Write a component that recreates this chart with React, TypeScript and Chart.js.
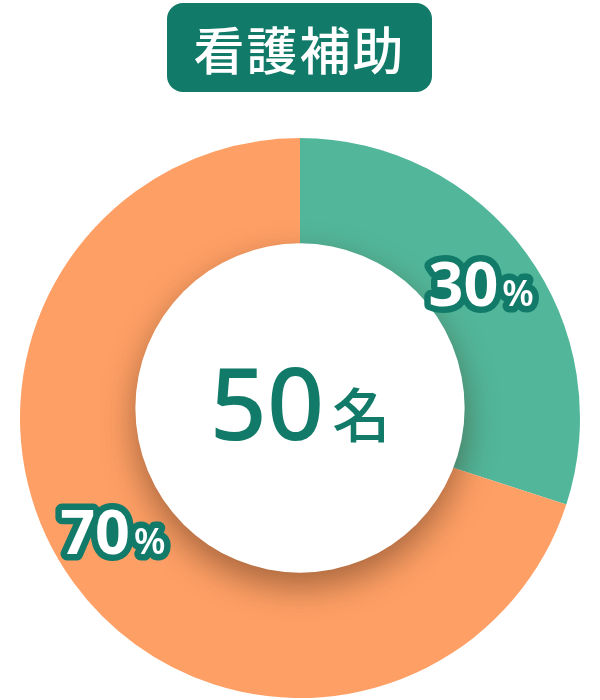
import React, { useEffect, useRef } from "react";
import { Chart, registerables, Plugin } from "chart.js";

Chart.register(...registerables);

const title = "看護補助";
const categories = ["A", "B"];
const shares = [30, 70];
const colors = ["#52b79a", "#fea066"];
const totalCount = 50;
const countUnit = "名";

const DARK = "#127a68";

// small per-label nudge [dx, dy] so labels sit like the original
const labelNudge = [
  [0, -2],
  [-6, -18],
];

const decorPlugin: Plugin<"doughnut"> = {
  id: "decor",
  afterDatasetsDraw(chart) {
    const { ctx } = chart;
    const meta = chart.getDatasetMeta(0);
    const arc0: any = meta.data[0];
    if (!arc0) return;
    const cx = arc0.x;
    const cy = arc0.y;
    const R = arc0.outerRadius;

    // center white disc with drop shadow
    ctx.save();
    ctx.shadowColor = "rgba(60, 30, 10, 0.45)";
    ctx.shadowBlur = 34;
    ctx.shadowOffsetY = 14;
    ctx.fillStyle = "#ffffff";
    ctx.beginPath();
    ctx.arc(cx, cy - 10, R * 0.588, 0, Math.PI * 2);
    ctx.fill();
    ctx.restore();

    // center count
    ctx.save();
    ctx.fillStyle = DARK;
    ctx.textBaseline = "alphabetic";
    const numFont = '500 100px "Noto Sans", sans-serif';
    const unitFont = '500 58px "Noto Sans CJK JP", sans-serif';
    const numText = String(totalCount);
    ctx.font = numFont;
    const nw = ctx.measureText(numText).width;
    ctx.font = unitFont;
    const uw = ctx.measureText(countUnit).width;
    const gap = 8;
    const startX = cx - (nw + gap + uw) / 2;
    const base = cy + 22;
    ctx.font = numFont;
    ctx.textAlign = "left";
    ctx.fillText(numText, startX, base);
    ctx.font = unitFont;
    ctx.fillText(countUnit, startX + nw + gap, base - 3);
    ctx.restore();

    // percentage labels
    meta.data.forEach((el: any, i: number) => {
      const mid = (el.startAngle + el.endAngle) / 2;
      const r = R * 0.8;
      const [dx, dy] = labelNudge[i] || [0, 0];
      const lx = cx + Math.cos(mid) * r + dx;
      const ly = cy + Math.sin(mid) * r + dy;
      const digits = String(shares[i]);
      const digitFont = '700 61px "Noto Sans", sans-serif';
      const pctFont = '600 36px "Noto Sans", sans-serif';
      ctx.save();
      ctx.font = digitFont;
      const dw = ctx.measureText(digits).width;
      ctx.font = pctFont;
      const pw = ctx.measureText("%").width;
      const pg = 4;
      const sx = lx - (dw + pg + pw) / 2;
      const baseline = ly + 22;
      ctx.lineJoin = "round";
      ctx.lineWidth = 13;
      ctx.strokeStyle = DARK;
      ctx.fillStyle = "#ffffff";
      ctx.textAlign = "left";
      ctx.textBaseline = "alphabetic";
      ctx.font = digitFont;
      ctx.strokeText(digits, sx, baseline);
      ctx.font = pctFont;
      ctx.strokeText("%", sx + dw + pg, baseline);
      ctx.font = digitFont;
      ctx.fillText(digits, sx, baseline);
      ctx.font = pctFont;
      ctx.fillText("%", sx + dw + pg, baseline);
      ctx.restore();
    });
  },
};

export default function App() {
  const canvasRef = useRef<HTMLCanvasElement | null>(null);
  const chartRef = useRef<Chart<"doughnut"> | null>(null);

  useEffect(() => {
    if (chartRef.current) {
      chartRef.current.destroy();
    }
    if (canvasRef.current) {
      chartRef.current = new Chart(canvasRef.current, {
        type: "doughnut",
        data: {
          labels: categories,
          datasets: [
            {
              data: shares,
              backgroundColor: colors,
              borderWidth: 0,
            },
          ],
        },
        options: {
          animation: false,
          responsive: true,
          maintainAspectRatio: false,
          cutout: "50%",
          layout: { padding: { top: 138, bottom: 2, left: 0, right: 0 } },
          plugins: {
            legend: { display: false },
            tooltip: { enabled: false },
          },
        },
        plugins: [decorPlugin],
      });
    }
    return () => {
      if (chartRef.current) {
        chartRef.current.destroy();
        chartRef.current = null;
      }
    };
  }, []);

  return (
    <div style={{ position: "absolute", left: 0, top: 0, width: 600, height: 700, background: "#fff" }}>
      <div
        style={{
          position: "absolute",
          left: 167,
          top: 3,
          width: 265,
          height: 89,
          borderRadius: 16,
          background: DARK,
          color: "#fff",
          fontFamily: '"Noto Sans CJK JP", sans-serif',
          fontWeight: 500,
          fontSize: 51,
          letterSpacing: 2,
          display: "flex",
          alignItems: "center",
          justifyContent: "center",
          zIndex: 1,
        }}
      >
        {title}
      </div>
      <div style={{ position: "absolute", left: 0, top: 0, width: 600, height: 700 }}>
        <canvas ref={canvasRef}></canvas>
      </div>
    </div>
  );
}
